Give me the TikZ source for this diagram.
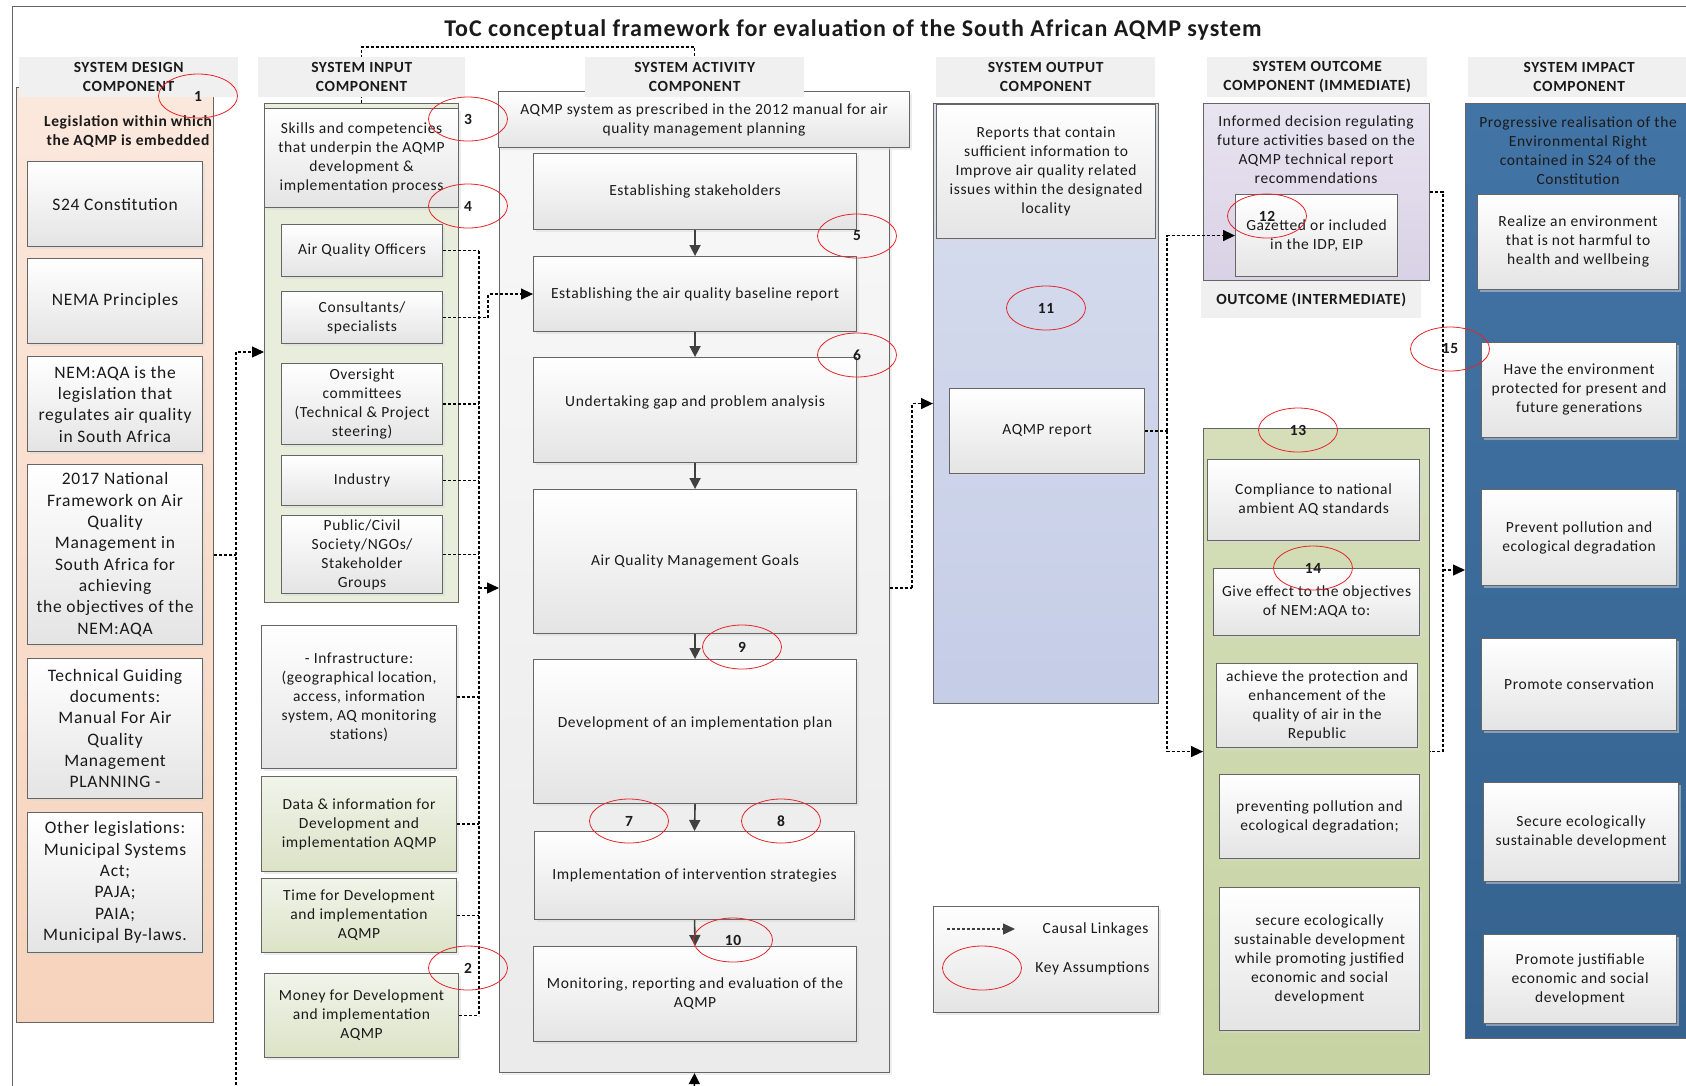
\documentclass[tikz,border=0pt]{standalone}
\usepackage{fontspec}
\setmainfont{Carlito}[LetterSpace=4]
\usetikzlibrary{arrows.meta,shadows,shapes.geometric}

\definecolor{txt}{HTML}{1A1A1A}
\definecolor{boxline}{HTML}{666666}
\definecolor{boxgray}{HTML}{E4E4E4}
\definecolor{hdrgray}{HTML}{F0F0F0}
\definecolor{peachT}{HTML}{FBE8DD}
\definecolor{peachB}{HTML}{F6D3BC}
\definecolor{inputgreen}{HTML}{E9EEDC}
\definecolor{lgreenT}{HTML}{F1F4EA}
\definecolor{lgreenB}{HTML}{DBE3C6}
\definecolor{outT}{HTML}{D8DEEE}
\definecolor{outB}{HTML}{C5CDE7}
\definecolor{purT}{HTML}{E8E4F0}
\definecolor{purB}{HTML}{D9D1E5}
\definecolor{midT}{HTML}{D5DEB9}
\definecolor{midB}{HTML}{C7D3A3}
\definecolor{impT}{HTML}{4274A6}
\definecolor{impB}{HTML}{35628E}
\definecolor{flowgray}{HTML}{404040}
\definecolor{assumred}{HTML}{E5262B}

\newcommand{\fsA}{\fontsize{17.5}{21.3}\selectfont}
\newcommand{\fsB}{\fontsize{15.5}{19}\selectfont}
\newcommand{\fsT}{\fontsize{24}{28}\selectfont\bfseries}

% box from its top-left to its bottom-right corner
\newcommand{\bx}[7]{\node[#6, anchor=north west,
  minimum width={(#4-#2)*1pt}, minimum height={(#5-#3)*1pt}] (#1) at (#2,#3) {#7};}

\tikzset{
  base/.style={draw=boxline, line width=1.1pt, align=center, inner sep=2pt,
    font=\fsB, text=txt},
  gbox/.style={base, top color=white, bottom color=boxgray,
    drop shadow={shadow xshift=2.5pt, shadow yshift=-2.5pt, fill=black!15}},
  gboxA/.style={gbox, font=\fsA},
  greenbox/.style={base, top color=lgreenT, bottom color=lgreenB,
    drop shadow={shadow xshift=2.5pt, shadow yshift=-2.5pt, fill=black!15}},
  hdr/.style={fill=hdrgray, draw=none, align=center, inner sep=0pt,
    font=\fsB\bfseries, text=txt},
  colpeach/.style={base, top color=peachT, bottom color=peachB},
  colinput/.style={base, fill=inputgreen},
  colact/.style={base, top color=white!97!black, bottom color=white!92!black,
    drop shadow={shadow xshift=2.5pt, shadow yshift=-2.5pt, fill=black!12}},
  colout/.style={base, top color=outT, bottom color=outB},
  colpur/.style={base, top color=purT, bottom color=purB},
  colmid/.style={base, top color=midT, bottom color=midB},
  colimp/.style={base, top color=impT, bottom color=impB},
  raised/.style={text depth=18pt},
  causal/.style={draw=black, line width=1.3pt, dash pattern=on 3pt off 2pt},
  causalarrow/.style={causal, -{Triangle[length=12pt,width=11pt]}},
  flow/.style={draw=flowgray, line width=1.6pt, -{Triangle[length=11pt,width=11pt]}},
  assum/.style={ellipse, draw=assumred, line width=0.8pt, minimum width=79pt,
    minimum height=44pt, inner sep=0pt, font=\fsB\bfseries, text=txt},
}

\begin{document}
\begin{tikzpicture}[x=1pt, y=-1pt]
\useasboundingbox (0,0) rectangle (1686,1085);

% outer frame
\draw[draw=black!60, line width=1pt] (12,6) rectangle (1710,1110);

% title
\node[font=\fsT, text=txt] (title) at (853,30)
  {ToC conceptual framework for evaluation of the South African AQMP system};

% ---------------- column backgrounds ----------------
\bx{dcol}{16}{87}{213}{1022}{colpeach}{}
\bx{icol}{264}{103}{458}{602}{colinput}{}
\bx{actc}{499}{147}{889}{1072}{colact}{}
\bx{ocol}{933}{103}{1158}{703}{colout}{}
\bx{imm}{1203}{103}{1429}{280}{colpur}{}
\bx{mcol}{1203}{428}{1429}{1074}{colmid}{}
\bx{pcol}{1465}{103}{1720}{1038}{colimp}{}

% link between the input and activity headers, above them
\coordinate (tp) at (500,47);
\draw[causal] (icol.north) |- (tp) -| (694.5,57);

% ---------------- design component ----------------
\node[font=\fsB\bfseries, align=center, text=txt] (dtitle) at (128,132)
  {Legislation within which\\the AQMP is embedded};
\bx{s24}{27}{161}{202}{246}{gboxA}{S24 Constitution}
\bx{nema}{27}{258}{202}{343}{gboxA}{NEMA Principles}
\bx{aqa}{27}{356}{202}{451}{gboxA}{NEM:AQA is the\\legislation that\\regulates air quality\\in South Africa}
\bx{nfw}{27}{464}{202}{644}{gboxA}{2017 National\\Framework on Air\\Quality\\Management in\\South Africa for\\achieving\\the objectives of the\\NEM:AQA}
\bx{tgd}{27}{658}{202}{798}{gboxA}{Technical Guiding\\documents:\\Manual For Air\\Quality\\Management\\PLANNING -}
\bx{oth}{27}{812}{202}{952}{gboxA}{Other legislations:\\Municipal Systems\\Act;\\PAJA;\\PAIA;\\Municipal By-laws.}

% ---------------- input component ----------------
\bx{skills}{264}{108}{458}{207}{gbox}{Skills and competencies\\that underpin the AQMP\\development \&\\implementation process}
\bx{aqo}{281}{224}{442}{276}{gbox}{Air Quality Officers}
\bx{cons}{281}{291}{442}{343}{gbox}{Consultants/\\specialists}
\bx{ovs}{281}{363}{442}{444}{gbox}{Oversight\\committees\\(Technical \& Project\\steering)}
\bx{ind}{281}{455}{442}{505}{gbox}{Industry}
\bx{pub}{281}{515}{442}{593}{gbox}{Public/Civil\\Society/NGOs/\\Stakeholder\\Groups}
\bx{infra}{261}{625}{456}{768}{gbox}{- Infrastructure:\\(geographical location,\\access, information\\system, AQ monitoring\\stations)}
\bx{data}{261}{776}{456}{871}{greenbox}{Data \& information for\\Development and\\implementation AQMP}
\bx{time}{261}{878}{456}{952}{greenbox}{Time for Development\\and implementation\\AQMP}
\bx{money}{264}{973}{458}{1057}{greenbox}{Money for Development\\and implementation\\AQMP}

% ---------------- activity component ----------------
\bx{aqmph}{498}{91}{909}{147}{gbox}{AQMP system as prescribed in the 2012 manual for air\\quality management planning}
\bx{stk}{533}{153}{856}{229}{gbox}{Establishing stakeholders}
\bx{base}{533}{256}{856}{331}{gbox}{Establishing the air quality baseline report}
\bx{gap}{533}{357}{856}{462}{gbox, raised}{Undertaking gap and problem analysis}
\bx{goals}{533}{489}{856}{633}{gbox}{Air Quality Management Goals}
\bx{dev}{533}{659}{856}{803}{gbox, raised}{Development of an implementation plan}
\bx{impl}{534}{831}{854}{919}{gbox}{Implementation of intervention strategies}
\bx{mon}{533}{946}{856}{1041}{gbox}{Monitoring, reporting and evaluation of the\\AQMP}

% ---------------- output component ----------------
\bx{rep}{936}{104}{1155}{238}{gbox}{Reports that contain\\sufficient information to\\Improve air quality related\\issues within the designated\\locality}
\bx{aqr}{949}{388}{1144}{473}{gbox}{AQMP report}

% ---------------- outcome components ----------------
\node[font=\fsB, align=center, text=txt] (immtxt) at (1316,150)
  {Informed decision regulating\\future activities based on the\\AQMP technical report\\recommendations};
\bx{gaz}{1235}{194}{1397}{276}{gbox}{Gazetted or included\\in the IDP, EIP}
\bx{comp}{1207}{459}{1419}{540}{gbox}{Compliance to national\\ambient AQ standards}
\bx{give}{1213}{568}{1419}{635}{gbox}{Give effect to the objectives\\of NEM:AQA to:}
\bx{ach}{1216}{663}{1417}{747}{gbox}{achieve the protection and\\enhancement of the\\quality of air in the\\Republic}
\bx{prev}{1219}{774}{1419}{858}{gbox}{preventing pollution and\\ecological degradation;}
\bx{sec}{1219}{887}{1419}{1030}{gbox}{secure ecologically\\sustainable development\\while promoting justified\\economic and social\\development}

% ---------------- impact component ----------------
\node[font=\fsB, align=center, text=txt] (imptxt) at (1578,150.5)
  {Progressive realisation of the\\Environmental Right\\contained in S24 of the\\Constitution};
\bx{r1}{1477}{193.5}{1678}{288.6}{gbox}{Realize an environment\\that is not harmful to\\health and wellbeing}
\bx{r2}{1481}{341.6}{1676}{436.6}{gbox}{Have the environment\\protected for present and\\future generations}
\bx{r3}{1481}{489}{1676}{585}{gbox}{Prevent pollution and\\ecological degradation}
\bx{r4}{1481}{638}{1676}{730}{gbox}{Promote conservation}
\bx{r5}{1483}{782}{1678}{881}{gbox}{Secure ecologically\\sustainable development}
\bx{r6}{1483}{934}{1676}{1023}{gbox}{Promote justifiable\\economic and social\\development}

% ---------------- headers (over the column tops) ----------------
\bx{dhdr}{19}{57}{238}{97}{hdr}{SYSTEM DESIGN\\COMPONENT}
\bx{ihdr}{258}{57}{465}{97}{hdr}{SYSTEM INPUT\\COMPONENT}
\bx{ahdr}{585}{57}{804}{97}{hdr}{SYSTEM ACTIVITY\\COMPONENT}
\bx{ohdr}{936}{57}{1155}{97}{hdr}{SYSTEM OUTPUT\\COMPONENT}
\bx{uhdr}{1207}{57}{1427}{97}{hdr}{SYSTEM OUTCOME\\COMPONENT (IMMEDIATE)}
\bx{phdr}{1468}{57}{1690}{97}{hdr}{SYSTEM IMPACT\\COMPONENT}
\bx{mhdr}{1201}{281}{1421}{318}{hdr}{OUTCOME (INTERMEDIATE)}

% ---------------- legend ----------------
\bx{leg}{933}{906}{1158}{1012}{gbox}{}
\coordinate (lg1) at (947,929);
\coordinate (lg2) at (1015,929);
\draw[causal, draw=flowgray, -{Triangle[length=12pt,width=11pt]}] (lg1) -- (lg2);
\node[anchor=east, font=\fsB, text=txt] (lgc) at (1152,929) {Causal Linkages};
\node[assum] (lge) at (982,968) {};
\node[anchor=east, font=\fsB, text=txt] (lgk) at (1153,968) {Key Assumptions};

% ---------------- causal linkages ----------------
% design -> input
\coordinate (dv1) at (236,352);
\coordinate (dv2) at (236,1095);
\draw[causal] (dcol.east) -- (dcol.east -| dv1);
\draw[causalarrow] (dv2) -- (dv1) -- (dv1 -| icol.west);

% inputs -> activity
\coordinate (jn) at (479,588);
\foreach \n in {aqo,ovs,ind,pub,infra,data,time,money}
  \draw[causal] (\n.east) -- (\n.east -| jn);
\draw[causal] (aqo.east -| jn) -- (money.east -| jn);
\coordinate (cb) at (488,316);
\draw[causal] (cons.east) -- (cons.east -| cb);
\draw[causalarrow] (cons.east -| cb) |- (base.west);
\draw[causalarrow] (jn) -- (jn -| actc.west);

% activity flow
\draw[flow] (stk.south) -- (base.north);
\draw[flow] (base.south) -- (gap.north);
\draw[flow] (gap.south) -- (goals.north);
\draw[flow] (goals.south) -- (dev.north);
\draw[flow] (dev.south) -- (impl.north);
\draw[flow] (impl.south) -- (mon.north);
\coordinate (bt) at (694,1100);
\draw[flow, draw=black] (bt) -- (actc.south);

% activity -> output
\coordinate (ao) at (912,588);
\draw[causal] (actc.east |- jn) -- (ao);
\draw[causalarrow] (ao) |- (ocol.west);

% output -> outcomes
\coordinate (ob) at (1167,430);
\draw[causal] (aqr.east) -- (aqr.east -| ob);
\draw[causalarrow] (aqr.east -| ob) |- (gaz.west);
\draw[causalarrow] (aqr.east -| ob) |- (mcol.west);

% outcomes -> impact
\coordinate (ib) at (1443,570);
\draw[causal] (imm.east) -- (imm.east -| ib) -- (mcol.east -| ib) -- (mcol.east);
\draw[causalarrow] (ib) -- (ib -| pcol.west);

% ---------------- key assumptions ----------------
\node[assum] (a1) at (198,96) {1};
\node[assum] (a2) at (468,968) {2};
\node[assum] (a3) at (468,119) {3};
\node[assum] (a4) at (468,206) {4};
\node[assum] (a5) at (857,236) {5};
\node[assum] (a6) at (857,355) {6};
\node[assum] (a7) at (629,821) {7};
\node[assum] (a8) at (781,821) {8};
\node[assum] (a9) at (742,647) {9};
\node[assum] (a10) at (733,940) {10};
\node[assum] (a11) at (1046,308) {11};
\node[assum] (a12) at (1267,216) {12};
\node[assum] (a13) at (1298,430) {13};
\node[assum] (a14) at (1313,568) {14};
\node[assum] (a15) at (1450,349) {15};
\end{tikzpicture}
\end{document}
